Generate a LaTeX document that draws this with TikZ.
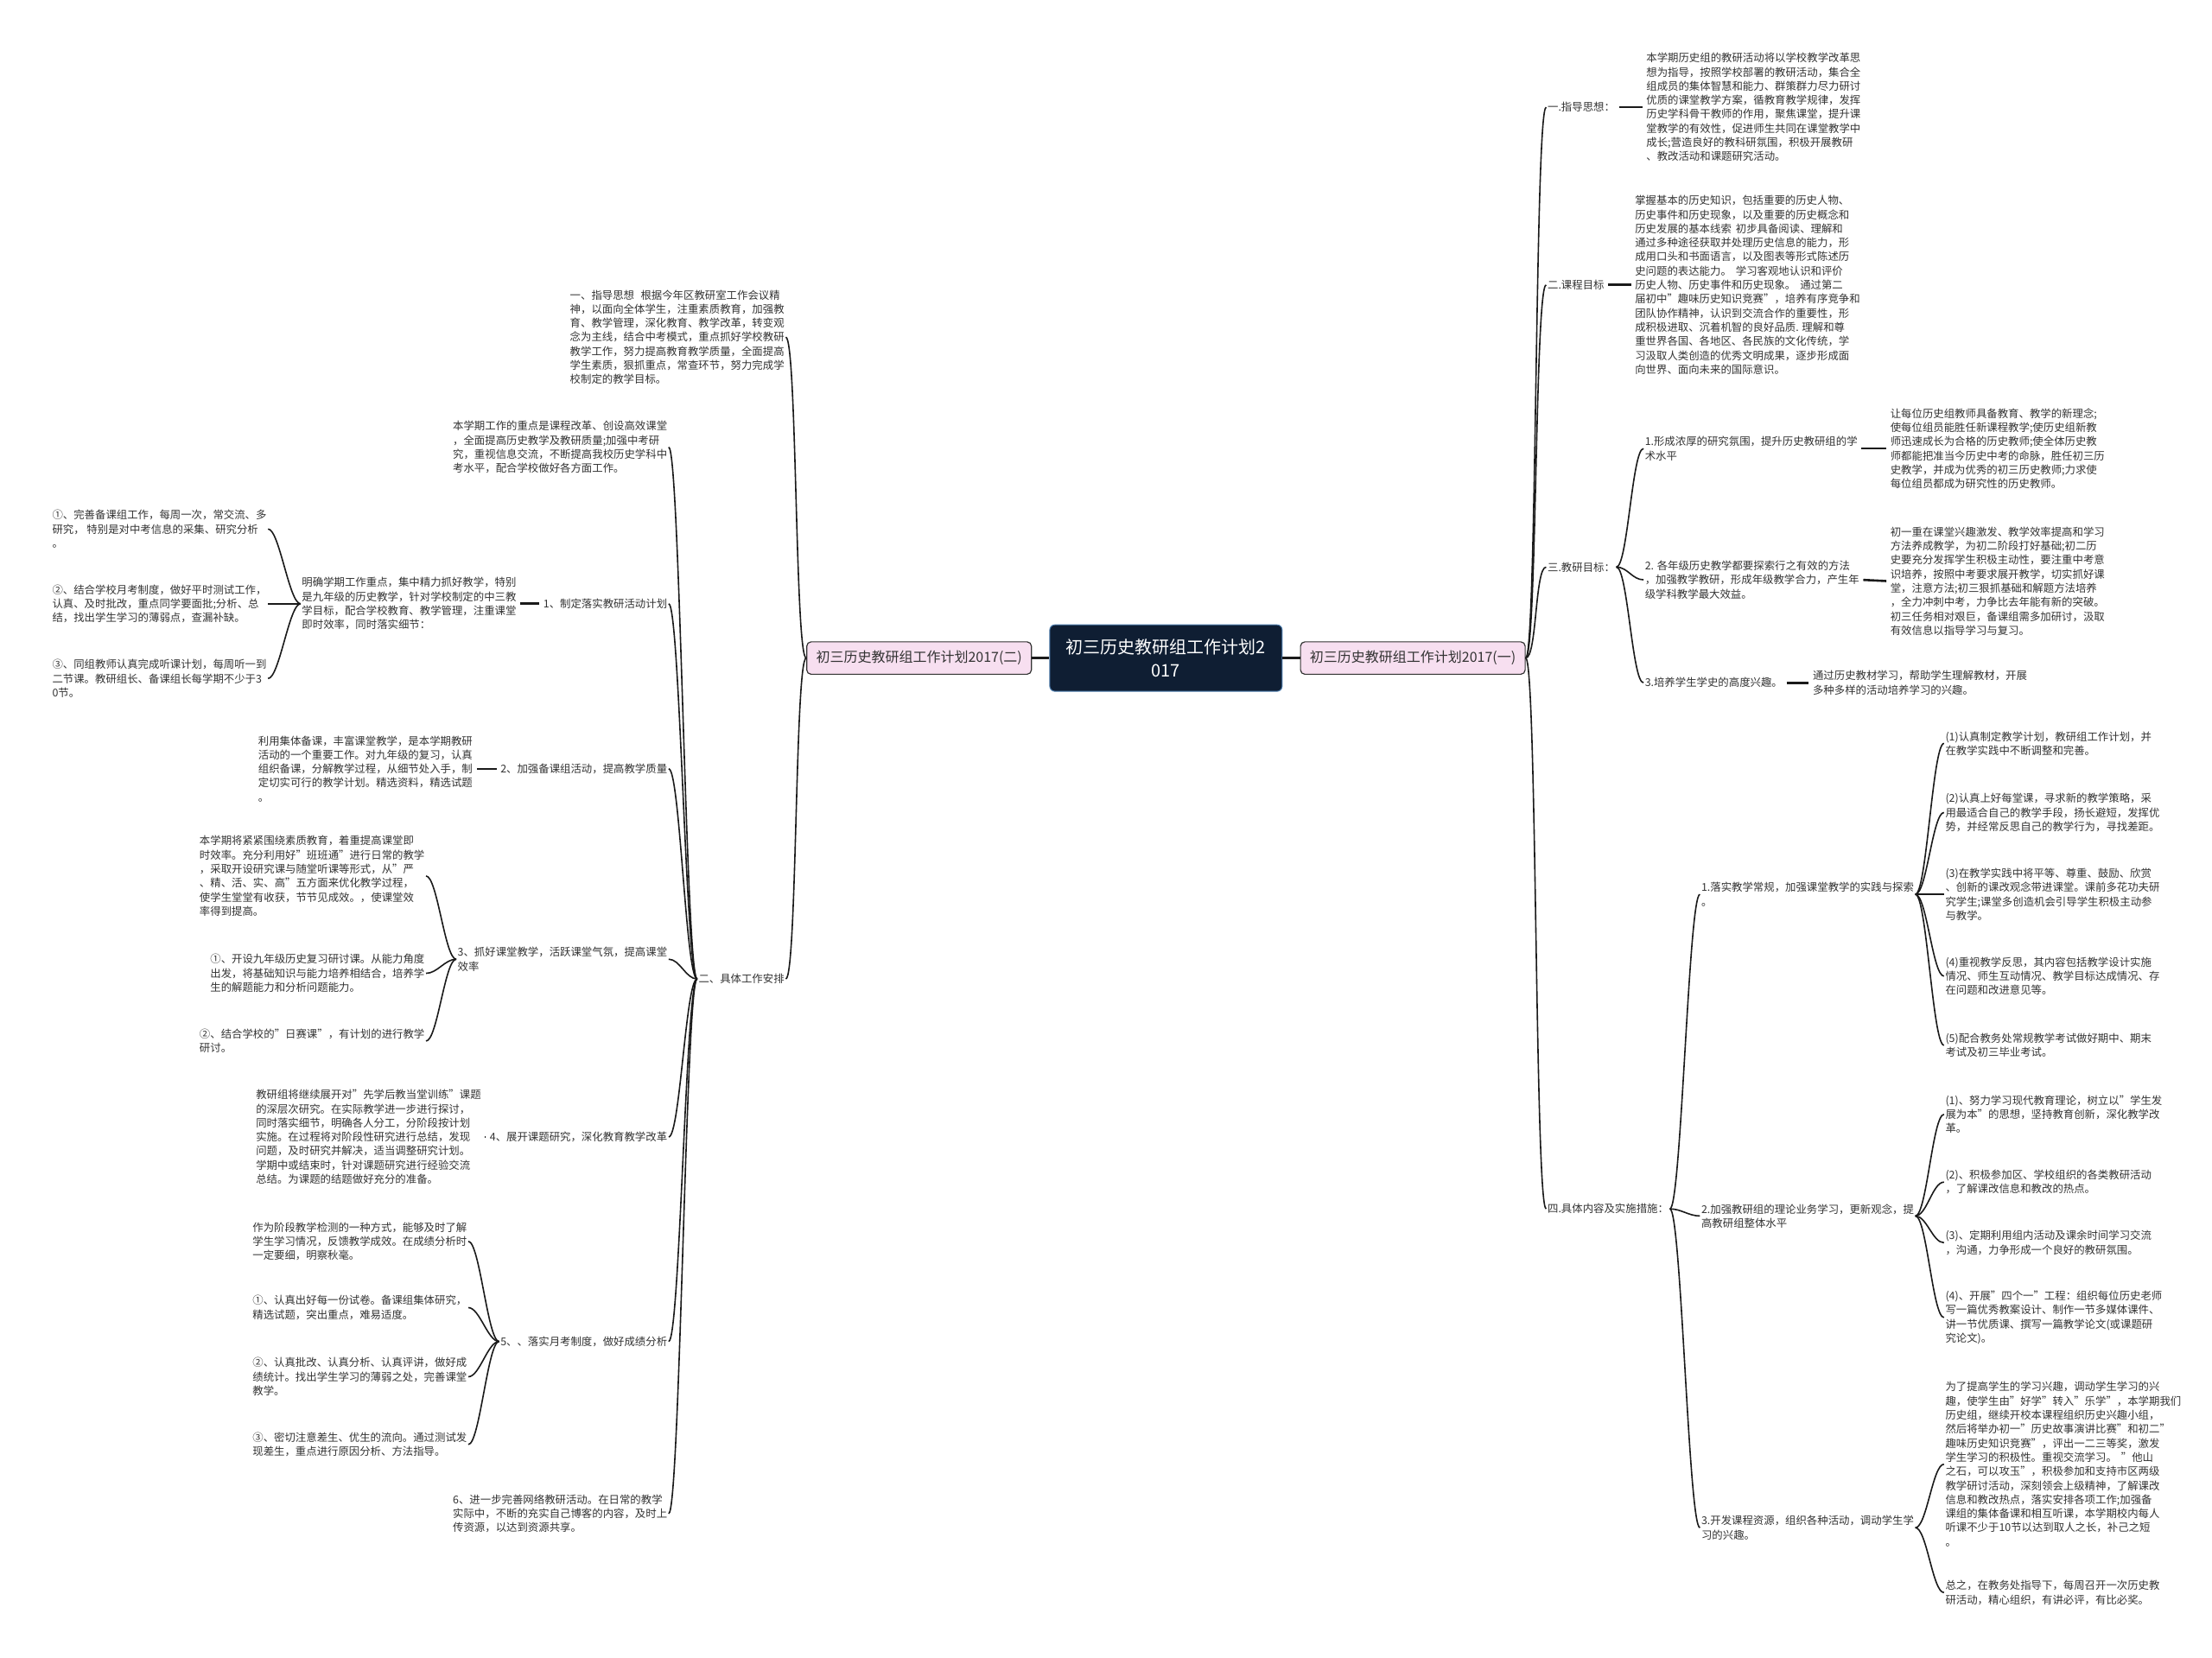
\documentclass[tikz,border=0pt]{standalone}
\usepackage{fontspec}
\setmainfont{Noto Sans CJK SC}
\definecolor{navy}{HTML}{0F1E33}
\definecolor{navyedge}{HTML}{4F7FB0}
\definecolor{pinkfill}{HTML}{F7DFF0}
\definecolor{txtc}{HTML}{333333}
\definecolor{linec}{HTML}{1A1A1A}
\newcommand\myrc[2]{\draw[conn] (#1.east) .. controls +(8,0) and +(-8,0) .. (#2.west);}
\newcommand\mylc[2]{\draw[conn] (#1.west) .. controls +(-8,0) and +(8,0) .. (#2.east);}
\newcommand\mydr[2]{\draw[dline] (#1.east) -- (#2.west);}
\newcommand\mydl[2]{\draw[dline] (#1.west) -- (#2.east);}
\begin{document}
\begin{tikzpicture}[x=1.6327pt,y=-1.6327pt,
  t/.style={font=\fontsize{12.4}{16.3}\selectfont, text=txtc, align=left, inner sep=1.5pt},
  tr/.style={t, anchor=west},
  tl/.style={t, anchor=east},
  conn/.style={draw=linec, line width=1.6pt},
  dline/.style={draw=linec, line width=2.6pt, shorten <=3pt, shorten >=3pt},
  thickconn/.style={draw=linec, line width=3pt},
  rootbox/.style={fill=navy, draw=navyedge, line width=1pt, rounded corners=6pt, minimum width=269pt, minimum height=77pt, text=white, align=center, font=\fontsize{20}{27}\selectfont},
  branchbox/.style={fill=pinkfill, draw=txtc, line width=1.2pt, rounded corners=5pt, minimum width=260pt, minimum height=37.5pt, text=txtc, font=\fontsize{16}{19}\selectfont}
]
\useasboundingbox (0,0) rectangle (1568,1175.35);
\fill[white] (0,0) rectangle (1568,1175.35);

% root and main branches
\node[rootbox] (c) at (826.5,466.5) {初三历史教研组工作计划2\\017};
\node[branchbox] (L0) at (651.5,466.5) {初三历史教研组工作计划2017(二)};
\node[branchbox] (R0) at (1001.5,466.5) {初三历史教研组工作计划2017(一)};
\draw[thickconn] (L0.east) -- (c.west);
\draw[thickconn] (c.east) -- (R0.west);

% ---------------- right side ----------------
\node[tr] (R1) at (1096,76) {一.指导思想：};
\node[tr] (R1c) at (1166,76) {本学期历史组的教研活动将以学校教学改革思\\
想为指导，按照学校部署的教研活动，集合全\\
组成员的集体智慧和能力、群策群力尽力研讨\\
优质的课堂教学方案，循教育教学规律，发挥\\
历史学科骨干教师的作用，聚焦课堂，提升课\\
堂教学的有效性，促进师生共同在课堂教学中\\
成长;营造良好的教科研氛围，积极开展教研\\
、教改活动和课题研究活动。};
\node[tr] (R2) at (1096,202) {二.课程目标};
\node[tr] (R2c) at (1158,202) {掌握基本的历史知识，包括重要的历史人物、\\
历史事件和历史现象，以及重要的历史概念和\\
历史发展的基本线索\hspace{0.4em}初步具备阅读、理解和\\
通过多种途径获取并处理历史信息的能力，形\\
成用口头和书面语言，以及图表等形式陈述历\\
史问题的表达能力。\hspace{0.4em}学习客观地认识和评价\\
历史人物、历史事件和历史现象。\hspace{0.4em}通过第二\\
届初中"趣味历史知识竞赛"，培养有序竞争和\\
团队协作精神，认识到交流合作的重要性，形\\
成积极进取、沉着机智的良好品质. 理解和尊\\
重世界各国、各地区、各民族的文化传统，学\\
习汲取人类创造的优秀文明成果，逐步形成面\\
向世界、面向未来的国际意识。};
\node[tr] (R3) at (1096,402) {三.教研目标：};
\node[tr] (R3a) at (1165,318) {1.形成浓厚的研究氛围，提升历史教研组的学\\术水平};
\node[tr] (R3ac) at (1339,318) {让每位历史组教师具备教育、教学的新理念;\\
使每位组员能胜任新课程教学;使历史组新教\\
师迅速成长为合格的历史教师;使全体历史教\\
师都能把准当今历史中考的命脉，胜任初三历\\
史教学，并成为优秀的初三历史教师;力求使\\
每位组员都成为研究性的历史教师。};
\node[tr] (R3b) at (1165,411) {2. 各年级历史教学都要探索行之有效的方法\\
，加强教学教研，形成年级教学合力，产生年\\
级学科教学最大效益。};
\node[tr] (R3bc) at (1339,412) {初一重在课堂兴趣激发、教学效率提高和学习\\
方法养成教学，为初二阶段打好基础;初二历\\
史要充分发挥学生积极主动性，要注重中考意\\
识培养，按照中考要求展开教学，切实抓好课\\
堂，注意方法;初三狠抓基础和解题方法培养\\
，全力冲刺中考，力争比去年能有新的突破。\\
初三任务相对艰巨，备课组需多加研讨，汲取\\
有效信息以指导学习与复习。};
\node[tr] (R3c) at (1165,484) {3.培养学生学史的高度兴趣。};
\node[tr] (R3cc) at (1284,484) {通过历史教材学习，帮助学生理解教材，开展\\
多种多样的活动培养学习的兴趣。};
\node[tr] (R4) at (1096,857) {四.具体内容及实施措施：};
\node[tr] (R4a) at (1205,634) {1.落实教学常规，加强课堂教学的实践与探索\\。};
\node[tr] (R4a1) at (1378,527) {(1)认真制定教学计划，教研组工作计划，并\\
在教学实践中不断调整和完善。};
\node[tr] (R4a2) at (1378,576) {(2)认真上好每堂课，寻求新的教学策略，采\\
用最适合自己的教学手段，扬长避短，发挥优\\
势，并经常反思自己的教学行为，寻找差距。};
\node[tr] (R4a3) at (1378,634) {(3)在教学实践中将平等、尊重、鼓励、欣赏\\
、创新的课改观念带进课堂。课前多花功夫研\\
究学生;课堂多创造机会引导学生积极主动参\\
与教学。};
\node[tr] (R4a4) at (1378,692) {(4)重视教学反思，其内容包括教学设计实施\\
情况、师生互动情况、教学目标达成情况、存\\
在问题和改进意见等。};
\node[tr] (R4a5) at (1378,741) {(5)配合教务处常规教学考试做好期中、期末\\
考试及初三毕业考试。};
\node[tr] (R4b) at (1205,862) {2.加强教研组的理论业务学习，更新观念，提\\高教研组整体水平};
\node[tr] (R4b1) at (1378,790) {(1)、努力学习现代教育理论，树立以"学生发\\
展为本"的思想，坚持教育创新，深化教学改\\
革。};
\node[tr] (R4b2) at (1378,838) {(2)、积极参加区、学校组织的各类教研活动\\
，了解课改信息和教改的热点。};
\node[tr] (R4b3) at (1378,881) {(3)、定期利用组内活动及课余时间学习交流\\
，沟通，力争形成一个良好的教研氛围。};
\node[tr] (R4b4) at (1378,934) {(4)、开展"四个一"工程：组织每位历史老师\\
写一篇优秀教案设计、制作一节多媒体课件、\\
讲一节优质课、撰写一篇教学论文(或课题研\\
究论文)。};
\node[tr] (R4c) at (1205,1083) {3.开发课程资源，组织各种活动，调动学生学\\习的兴趣。};
\node[tr] (R4c1) at (1378,1038) {为了提高学生的学习兴趣，调动学生学习的兴\\
趣，使学生由"好学"转入"乐学"，本学期我们\\
历史组，继续开校本课程组织历史兴趣小组，\\
然后将举办初一"历史故事演讲比赛"和初二"\\
趣味历史知识竞赛"，评出一二三等奖，激发\\
学生学习的积极性。重视交流学习。\hspace{0.4em}"他山\\
之石，可以攻玉"，积极参加和支持市区两级\\
教学研讨活动，深刻领会上级精神，了解课改\\
信息和教改热点，落实安排各项工作;加强备\\
课组的集体备课和相互听课，本学期校内每人\\
听课不少于10节以达到取人之长，补己之短\\
。};
\node[tr] (R4c2) at (1378,1129) {总之，在教务处指导下，每周召开一次历史教\\
研活动，精心组织，有讲必评，有比必奖。};

\myrc{R0}{R1} \myrc{R0}{R2} \myrc{R0}{R3} \myrc{R0}{R4}
\mydr{R1}{R1c} \mydr{R2}{R2c}
\myrc{R3}{R3a} \myrc{R3}{R3b} \myrc{R3}{R3c}
\mydr{R3a}{R3ac} \mydr{R3b}{R3bc} \mydr{R3c}{R3cc}
\myrc{R4}{R4a} \myrc{R4}{R4b} \myrc{R4}{R4c}
\myrc{R4a}{R4a1} \myrc{R4a}{R4a2} \myrc{R4a}{R4a3} \myrc{R4a}{R4a4} \myrc{R4a}{R4a5}
\myrc{R4b}{R4b1} \myrc{R4b}{R4b2} \myrc{R4b}{R4b3} \myrc{R4b}{R4b4}
\myrc{R4c}{R4c1} \myrc{R4c}{R4c2}

% ---------------- left side ----------------
\node[tl] (L1) at (557,239) {一、指导思想\hspace{0.6em}根据今年区教研室工作会议精\\
神，以面向全体学生，注重素质教育，加强教\\
育、教学管理，深化教育、教学改革，转变观\\
念为主线，结合中考模式，重点抓好学校教研\\
教学工作，努力提高教育教学质量，全面提高\\
学生素质，狠抓重点，常查环节，努力完成学\\
校制定的教学目标。};
\node[tl] (L3) at (557,694) {二、具体工作安排};
\node[tl] (L2) at (474,317) {本学期工作的重点是课程改革、创设高效课堂\\
，全面提高历史教学及教研质量;加强中考研\\
究，重视信息交流，不断提高我校历史学科中\\
考水平，配合学校做好各方面工作。};
\node[tl] (L3a) at (474,428) {1、制定落实教研活动计划};
\node[tl] (L3ac) at (367,428) {明确学期工作重点，集中精力抓好教学，特别\\
是九年级的历史教学，针对学校制定的中三教\\
学目标，配合学校教育、教学管理，注重课堂\\
即时效率，同时落实细节：};
\node[tl] (L3a1) at (190,375) {①、完善备课组工作，每周一次，常交流、多\\
研究， 特别是对中考信息的采集、研究分析\\
。};
\node[tl] (L3a2) at (190,428) {②、结合学校月考制度，做好平时测试工作，\\
认真、及时批改，重点同学要面批;分析、总\\
结，找出学生学习的薄弱点，查漏补缺。};
\node[tl] (L3a3) at (190,481) {③、同组教师认真完成听课计划，每周听一到\\
二节课。教研组长、备课组长每学期不少于3\\
0节。};
\node[tl] (L3b) at (474,545) {2、加强备课组活动，提高教学质量};
\node[tl] (L3bc) at (336,545) {利用集体备课，丰富课堂教学，是本学期教研\\
活动的一个重要工作。对九年级的复习，认真\\
组织备课，分解教学过程，从细节处入手，制\\
定切实可行的教学计划。精选资料，精选试题\\
。};
\node[tl] (L3c) at (474,680) {3、抓好课堂教学，活跃课堂气氛，提高课堂\\效率};
\node[tl] (L3c1) at (302,621) {本学期将紧紧围绕素质教育，着重提高课堂即\\
时效率。充分利用好"班班通"进行日常的教学\\
，采取开设研究课与随堂听课等形式，从"严\\
、精、活、实、高"五方面来优化教学过程，\\
使学生堂堂有收获，节节见成效。，使课堂效\\
率得到提高。};
\node[tl] (L3c2) at (302,690) {①、开设九年级历史复习研讨课。从能力角度\\
出发，将基础知识与能力培养相结合，培养学\\
生的解题能力和分析问题能力。};
\node[tl] (L3c3) at (302,738) {②、结合学校的"日赛课"，有计划的进行教学\\
研讨。};
\node[tl] (L3d) at (474,806) {4、展开课题研究，深化教育教学改革};
\node[tl] (L3dc) at (342,806) {教研组将继续展开对"先学后教当堂训练"课题\\
的深层次研究。在实际教学进一步进行探讨，\\
同时落实细节，明确各人分工，分阶段按计划\\
实施。在过程将对阶段性研究进行总结，发现\\
问题，及时研究并解决，适当调整研究计划。\\
学期中或结束时，针对课题研究进行经验交流\\
总结。为课题的结题做好充分的准备。};
\node[tl] (L3e) at (474,951) {5、、落实月考制度，做好成绩分析};
\node[tl] (L3e1) at (332,880) {作为阶段教学检测的一种方式，能够及时了解\\
学生学习情况，反馈教学成效。在成绩分析时\\
一定要细，明察秋毫。};
\node[tl] (L3e2) at (332,927) {①、认真出好每一份试卷。备课组集体研究，\\
精选试题，突出重点，难易适度。};
\node[tl] (L3e3) at (332,976) {②、认真批改、认真分析、认真评讲，做好成\\
绩统计。找出学生学习的薄弱之处，完善课堂\\
教学。};
\node[tl] (L3e4) at (332,1024) {③、密切注意差生、优生的流向。通过测试发\\
现差生，重点进行原因分析、方法指导。};
\node[tl] (L3f) at (474,1073) {6、进一步完善网络教研活动。在日常的教学\\
实际中，不断的充实自己博客的内容，及时上\\
传资源，以达到资源共享。};

\mylc{L0}{L1} \mylc{L0}{L3}
\mylc{L3}{L2} \mylc{L3}{L3a} \mylc{L3}{L3b} \mylc{L3}{L3c} \mylc{L3}{L3d} \mylc{L3}{L3e} \mylc{L3}{L3f}
\mydl{L3a}{L3ac} \mydl{L3b}{L3bc} \mydl{L3d}{L3dc}
\mylc{L3ac}{L3a1} \mylc{L3ac}{L3a2} \mylc{L3ac}{L3a3}
\mylc{L3c}{L3c1} \mylc{L3c}{L3c2} \mylc{L3c}{L3c3}
\mylc{L3e}{L3e1} \mylc{L3e}{L3e2} \mylc{L3e}{L3e3} \mylc{L3e}{L3e4}
\end{tikzpicture}
\end{document}
